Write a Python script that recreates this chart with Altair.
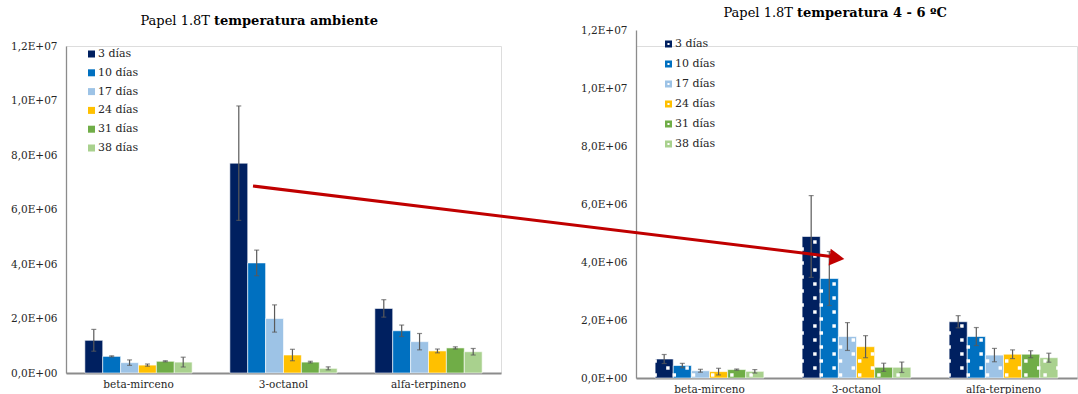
import altair as alt
import pandas as pd

# ---------------- data ----------------
SERIES = ["3 días", "10 días", "17 días", "24 días", "31 días", "38 días"]
COMPOUNDS = ["beta-mirceno", "3-octanol", "alfa-terpineno"]
COLORS = ["#002060", "#0070C0", "#9DC3E6", "#FFC000", "#70AD47", "#A9D18E"]

AMB_MEAN = {
    "beta-mirceno": [1.20e6, 0.61e6, 0.38e6, 0.29e6, 0.43e6, 0.40e6],
    "3-octanol": [7.70e6, 4.04e6, 2.00e6, 0.66e6, 0.40e6, 0.17e6],
    "alfa-terpineno": [2.37e6, 1.55e6, 1.15e6, 0.81e6, 0.92e6, 0.78e6],
}
AMB_ERR = {
    "beta-mirceno": [0.40e6, 0.02e6, 0.10e6, 0.04e6, 0.02e6, 0.18e6],
    "3-octanol": [2.10e6, 0.47e6, 0.50e6, 0.21e6, 0.03e6, 0.055e6],
    "alfa-terpineno": [0.32e6, 0.21e6, 0.30e6, 0.07e6, 0.04e6, 0.12e6],
}
FRIO_MEAN = {
    "beta-mirceno": [0.655e6, 0.43e6, 0.25e6, 0.22e6, 0.29e6, 0.23e6],
    "3-octanol": [4.88e6, 3.43e6, 1.43e6, 1.08e6, 0.37e6, 0.37e6],
    "alfa-terpineno": [1.94e6, 1.43e6, 0.79e6, 0.82e6, 0.82e6, 0.70e6],
}
FRIO_ERR = {
    "beta-mirceno": [0.155e6, 0.075e6, 0.05e6, 0.115e6, 0.02e6, 0.06e6],
    "3-octanol": [1.41e6, 0.93e6, 0.48e6, 0.38e6, 0.14e6, 0.18e6],
    "alfa-terpineno": [0.21e6, 0.31e6, 0.23e6, 0.15e6, 0.12e6, 0.155e6],
}
Y_TICKS = [0, 2e6, 4e6, 6e6, 8e6, 10e6, 12e6]
TITLE_L = ["Papel 1.8T", "temperatura ambiente"]
TITLE_R = ["Papel 1.8T", "temperatura 4 - 6 ºC"]

FONT = "DejaVu Serif"
TXT = "#262626"
AXC = "#8c8c8c"
SUBS = [s + "|" + c for s in SERIES for c in "LMR"]


def make_df(means, errs):
    rows = []
    for c in COMPOUNDS:
        for i, s in enumerate(SERIES):
            m, e = means[c][i], errs[c][i]
            rows.append(dict(compuesto=c, serie=s, valor=m, lo=m - e, hi=m + e))
    return pd.DataFrame(rows)


def pattern_df(df, px_per_unit):
    # white dotted texture of the refrigerated series (style only)
    rows = []
    for _, r in df.iterrows():
        top = r["valor"] * px_per_unit
        k = 0
        while 3 + 7 * k + 1.5 <= top:
            rows.append(dict(compuesto=r["compuesto"], serie=r["serie"],
                             sub=r["serie"] + ("|L" if k % 2 == 0 else "|R"),
                             v=(3 + 7 * k) / px_per_unit))
            k += 1
    return pd.DataFrame(rows)


LABEL_EXPR = "replace(replace(format(datum.value, '.1e'), '.', ','), 'e+', 'E+0')"


def panel(df, width, height, yrange, legend_x, legend_y, row_pad, symbol,
          title, title_x, title_y, pattern=None, extra=None):
    x = alt.X("compuesto:N", sort=COMPOUNDS, title=None,
              scale=alt.Scale(paddingInner=0.26, paddingOuter=0.13),
              axis=alt.Axis(labelAngle=0, ticks=False, domainColor=AXC, domainWidth=2,
                            labelFont=FONT, labelFontSize=10.5, labelColor=TXT,
                            labelPadding=6))
    xo = alt.XOffset("serie:N", sort=SERIES,
                     scale=alt.Scale(paddingInner=0, paddingOuter=0))
    ysc = alt.Scale(domain=[0, 12e6], range=yrange, nice=False)
    y = alt.Y("valor:Q", title=None, scale=ysc,
              axis=alt.Axis(values=Y_TICKS, labelExpr=LABEL_EXPR, ticks=False,
                            grid=False, domainColor=AXC, domainWidth=1.3,
                            labelFont=FONT, labelFontSize=10.5, labelColor=TXT,
                            labelPadding=9))
    color = alt.Color("serie:N", sort=SERIES,
                      scale=alt.Scale(domain=SERIES, range=COLORS),
                      legend=alt.Legend(title=None, orient="none", legendX=legend_x,
                                        legendY=legend_y, direction="vertical",
                                        symbolType=symbol, symbolSize=49,
                                        symbolStrokeWidth=0, labelFont=FONT,
                                        labelFontSize=11, labelColor=TXT,
                                        labelOffset=1, rowPadding=row_pad, padding=0))
    base = alt.Chart(df)
    bars = base.mark_bar(stroke="white", strokeWidth=0.6).encode(
        x=x, xOffset=xo, y=y, color=color)
    layers = [bars]
    err = base.mark_rule(color="#5a5a5a", strokeWidth=1.2).encode(
        x=x, xOffset=xo, y=alt.Y("lo:Q", title=None, scale=ysc), y2="hi:Q")
    cap_lo = base.mark_tick(color="#5a5a5a", size=5, thickness=1.2).encode(
        x=x, xOffset=xo, y=alt.Y("lo:Q", title=None, scale=ysc))
    cap_hi = base.mark_tick(color="#5a5a5a", size=5, thickness=1.2).encode(
        x=x, xOffset=xo, y=alt.Y("hi:Q", title=None, scale=ysc))
    tdf = pd.DataFrame({"t": [title[0]], "b": [title[1]]})
    t1 = alt.Chart(tdf).mark_text(font=FONT, fontSize=13, align="right",
                                  baseline="middle", color="#000").encode(
        x=alt.value(title_x), y=alt.value(title_y), text="t:N")
    t2 = alt.Chart(tdf).mark_text(font=FONT, fontSize=13, fontWeight="bold",
                                  align="left", baseline="middle", color="#000").encode(
        x=alt.value(title_x + 4), y=alt.value(title_y), text="b:N")
    rest = [err, cap_lo, cap_hi, t1, t2] + (extra or [])
    main = alt.layer(bars, *rest)
    if pattern is not None:
        pat = alt.Chart(pattern).mark_square(color="white", size=12, opacity=1).encode(
            x=x,
            xOffset=alt.XOffset("sub:N", sort=SUBS,
                                scale=alt.Scale(domain=SUBS, paddingInner=0,
                                                paddingOuter=0)),
            y=alt.Y("v:Q", title=None, scale=ysc),
        )
        main = alt.layer(bars, pat, *rest).resolve_scale(xOffset="independent")
    return main.properties(width=width, height=height)


amb = make_df(AMB_MEAN, AMB_ERR)
frio = make_df(FRIO_MEAN, FRIO_ERR)

# anchor: fixes the page origin so the left plot area starts at (65, 45)
anchor = alt.Chart(pd.DataFrame({"a": [0]})).mark_point(opacity=0, size=1).encode(
    x=alt.value(-65), y=alt.value(-45))

# red arrow (annotation) drawn from the right panel, reaching back into the left one
arr = pd.DataFrame({"a": [0]})
arrow_line = alt.Chart(arr).mark_rule(color="#C00000", strokeWidth=3).encode(
    x=alt.value(-383), y=alt.value(140), x2=alt.value(195), y2=alt.value(210.5))
arrow_head = alt.Chart(arr).mark_point(shape="triangle-right", filled=True, size=289,
                                       angle=7, color="#C00000", opacity=1).encode(
    x=alt.value(201), y=alt.value(212))

left = panel(amb, 435, 327, [327, 0], 20, 2.5, 6.8, "square", TITLE_L, 144, -25,
             extra=[anchor])
right = panel(frio, 441, 332, [332, -16], 27, -7.5, 8,
              "M-1,-1H1V1H-1Z M-0.3,-0.3V0.3H0.3V-0.3Z", TITLE_R, 157, -33,
              pattern=pattern_df(frio, 348 / 12e6), extra=[arrow_line, arrow_head])

chart = (
    alt.hconcat(left, right, spacing=135, bounds="flush")
    .resolve_legend(color="independent")
    .resolve_scale(color="independent", y="independent", x="independent")
    .properties(padding=0)
    .configure_view(stroke=None)
    .configure(background="white")
)

chart.save("out.html", embed_options={"renderer": "svg", "actions": False})
